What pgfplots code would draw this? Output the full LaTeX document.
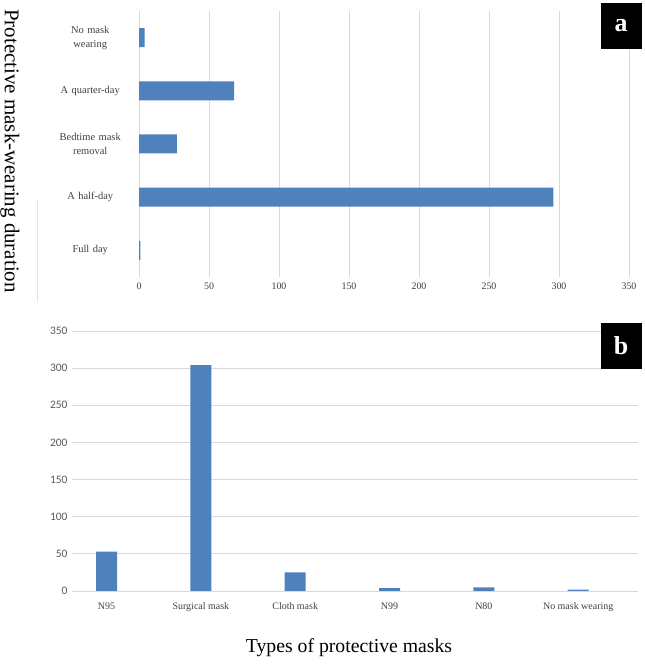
\documentclass[border=0pt]{standalone}
\usepackage{pgfplots}
\pgfplotsset{compat=1.18}
\usepackage{fontspec}
\setmainfont{Liberation Serif}
\newfontfamily\calibri{Carlito}
\definecolor{barblue}{HTML}{4F81BD}
\definecolor{gridgray}{HTML}{D9D9D9}
\definecolor{ticktext}{HTML}{404040}
\definecolor{ticksans}{HTML}{595959}
\begin{document}
\begin{tikzpicture}
\path[use as bounding box] (0,0) rectangle (645bp,664bp);
% Panel a
\begin{axis}[
 at={(139bp,387bp)}, anchor=south west,
 scale only axis, width=490bp, height=266bp,
 xbar, bar width=19bp,
 xmin=0, xmax=350, ymin=-0.5, ymax=4.5,
 xtick={0,50,...,350},
 ytick={0,1,2,3,4},
 yticklabels={Full day, A half-day, {Bedtime mask\\removal}, A quarter-day, {No mask\\wearing}},
 axis line style={draw=none},
 tick style={draw=none},
 xmajorgrids, major grid style={gridgray, line width=0.8bp},
 /pgf/number format/assume math mode=true,
 xticklabel style={font=\fontsize{10}{12}\selectfont, text=ticktext, yshift=-2bp},
 yticklabel style={font=\fontsize{10.5}{14}\selectfont, text=ticktext, align=center, text width=80bp, xshift=-1bp},
]
\addplot[fill=barblue, draw=none] coordinates {(1,0) (296,1) (27,2) (68,3) (4,4)};
\end{axis}
% Panel b
\begin{axis}[
 at={(72bp,73bp)}, anchor=south west,
 scale only axis, width=566bp, height=260bp,
 ybar, bar width=21bp,
 xmin=-0.366, xmax=5.634, ymin=0, ymax=350,
 ytick={0,50,...,350},
 xtick={0,1,2,3,4,5},
 xticklabels={N95, Surgical mask, Cloth mask, N99, N80, No mask wearing},
 axis line style={draw=none},
 tick style={draw=none},
 ymajorgrids, major grid style={gridgray, line width=0.8bp},
 /pgf/number format/assume math mode=true,
 xticklabel style={font=\fontsize{10}{12}\selectfont, text=ticktext, yshift=-4bp},
 yticklabel style={font=\calibri\fontsize{11.5}{13}\selectfont, text=ticksans, xshift=-1bp},
]
\addplot[fill=barblue, draw=none] coordinates {(0,53) (1,304) (2,25) (3,4) (4,5) (5,2)};
\end{axis}
% axis titles
\node[rotate=-90, font=\fontsize{21}{24}\selectfont] at (10bp,513bp) {Protective mask-wearing duration};
\node[font=\fontsize{19.8}{24}\selectfont] at (349bp,16bp) {Types of protective masks};
% faint chart-area border
\draw[gray!20, line width=0.6bp] (37bp,464bp) -- (37bp,362bp);
% panel letters
\node[fill=black, text=white, minimum width=41bp, minimum height=46bp, inner sep=0pt, font=\bfseries\fontsize{26}{26}\selectfont] at (621bp,638bp) {a};
\node[fill=black, text=white, minimum width=41bp, minimum height=46bp, inner sep=0pt, font=\bfseries\fontsize{26}{26}\selectfont] at (621bp,318bp) {b};
\end{tikzpicture}
\end{document}
